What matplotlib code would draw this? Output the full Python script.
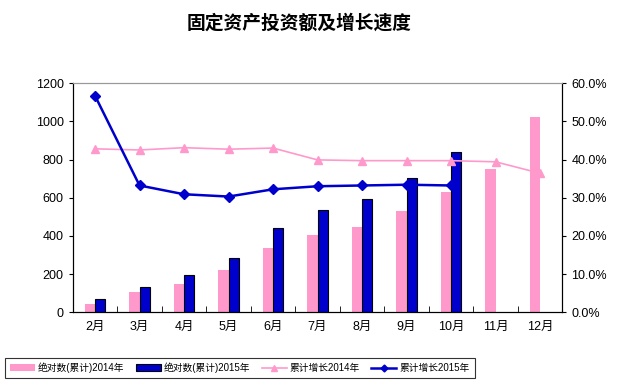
import matplotlib
matplotlib.use('Agg')
import matplotlib.pyplot as plt
import numpy as np
from matplotlib.ticker import FuncFormatter

plt.rcParams['font.family'] = ['Liberation Sans', 'Noto Sans CJK SC', 'DejaVu Sans']

# data
months = ['2月', '3月', '4月', '5月', '6月', '7月', '8月', '9月', '10月', '11月', '12月']
abs_2014 = [43, 105, 150, 220, 335, 407, 445, 532, 629, 749, 1025]
abs_2015 = [68, 134, 197, 286, 443, 538, 592, 705, 838]
growth_2014 = [42.8, 42.5, 43.1, 42.7, 43.0, 39.9, 39.7, 39.7, 39.7, 39.4, 36.4]
growth_2015 = [56.7, 33.2, 30.9, 30.3, 32.2, 33.0, 33.2, 33.4, 33.2]

pink = '#FF99CC'
blue = '#0000CC'

fig = plt.figure(figsize=(6.22, 3.85), dpi=100)
ax = fig.add_axes([0.117, 0.189, 0.787, 0.595])
ax2 = ax.twinx()

x = np.arange(len(months))
w = 0.23
ax.bar(x[:len(abs_2014)] - w / 2, abs_2014, w, color=pink, label='绝对数(累计)2014年', zorder=2)
ax.bar(x[:len(abs_2015)] + w / 2, abs_2015, w, color=blue, edgecolor='black', linewidth=0.8,
       label='绝对数(累计)2015年', zorder=2)

ax2.plot(x[:len(growth_2014)], growth_2014, color=pink, lw=1.2, marker='^', ms=6,
         label='累计增长2014年')
ax2.plot(x[:len(growth_2015)], growth_2015, color=blue, lw=1.8, marker='D', ms=5,
         label='累计增长2015年')

ax.set_xlim(-0.5, len(months) - 0.5)
ax.set_ylim(0, 1200)
ax.set_yticks(range(0, 1201, 200))
ax2.set_ylim(0, 60)
ax2.set_yticks(range(0, 61, 10))
ax2.yaxis.set_major_formatter(FuncFormatter(lambda v, p: '%.1f%%' % v))

ax.set_xticks(x)
ax.set_xticklabels(months)
ax.set_xticks(np.arange(-0.5, len(months)), minor=True)
ax.tick_params(axis='x', which='major', length=0, pad=6, labelsize=9)
ax.tick_params(axis='x', which='minor', length=4, direction='in')
ax.tick_params(axis='y', labelsize=9, length=3, direction='out')
ax2.tick_params(axis='y', labelsize=9, length=3, direction='out')

for a in (ax, ax2):
    a.spines['top'].set_color('#999999')
    a.spines['top'].set_linestyle((0, (2, 1)))

fig.text(0.481, 0.94, '固定资产投资额及增长速度', ha='center', va='center',
         fontsize=13.5, fontweight='bold', family=['Noto Sans CJK SC'])

h1, l1 = ax.get_legend_handles_labels()
h2, l2 = ax2.get_legend_handles_labels()
leg = fig.legend(h1 + h2, l1 + l2, loc='lower left', bbox_to_anchor=(0.008, 0.018),
                 ncol=4, fontsize=7, frameon=True, fancybox=False,
                 handlelength=2.6, handletextpad=0.3, columnspacing=1.15,
                 borderpad=0.5, borderaxespad=0, markerscale=0.7)
leg.get_frame().set_edgecolor('black')
leg.get_frame().set_linewidth(0.8)

fig.savefig('out.png', dpi=100)
